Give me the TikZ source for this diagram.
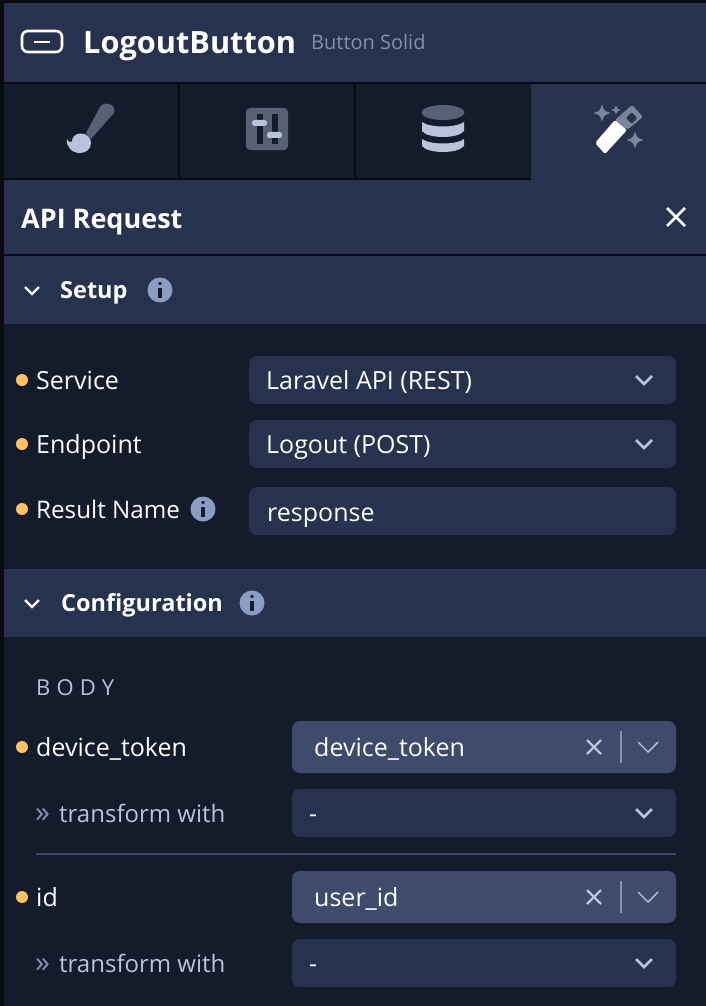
\documentclass[tikz,border=0pt]{standalone}
\usepackage{fontspec}
\setmainfont{Open Sans}
\definecolor{panel}{HTML}{27324E}
\definecolor{body}{HTML}{141B2B}
\definecolor{edge}{HTML}{090B10}
\definecolor{raised}{HTML}{3E4B6D}
\definecolor{muted}{HTML}{8391B1}
\definecolor{pale}{HTML}{B8C4D9}
\definecolor{slate}{HTML}{566175}
\definecolor{wand}{HTML}{7C8599}
\definecolor{info}{HTML}{8B9DC3}
\definecolor{dot}{HTML}{FFC05F}
\tikzset{
  lbl/.style={anchor=base west,inner sep=0pt,text=white,font=\fontsize{25}{29}\selectfont},
  head/.style={lbl,font=\fontsize{23.5}{28}\bfseries\selectfont},
  sub/.style={lbl,text=pale,font=\fontsize{24}{28}\selectfont},
  field/.style={fill=panel,rounded corners=8pt},
  chev/.style={pale,line width=2.7pt},
  thin/.style={pale,line width=1.4pt},
}
\begin{document}
\begin{tikzpicture}[x=1pt,y=-1pt]
  \useasboundingbox (0,0) rectangle (706,1006);
  % Bakgrund
  \fill[edge] (0,0) rectangle (706,1006);
  \fill[panel] (4,3) rectangle (706,82);
  \fill[body] (4,84) rectangle (178,178);
  \fill[body] (180,84) rectangle (354,178);
  \fill[body] (356,84) rectangle (531,178);
  \fill[panel] (531,84) rectangle (706,254);
  \fill[panel] (4,180) rectangle (706,254);
  \fill[panel] (4,256) rectangle (706,324);
  \fill[body] (4,324) rectangle (706,569);
  \fill[panel] (4,569) rectangle (706,637);
  \fill[body] (4,637) rectangle (706,1006);
  % Rubrik
  \draw[white,line width=2.6pt,rounded corners=6pt] (22,31) rectangle (62,52);
  \draw[white,line width=2.6pt] (34,42) -- (50,42);
  \node[head,font=\fontsize{30.7}{34}\bfseries\selectfont] (title) at (83,54) {LogoutButton};
  \node[lbl,text=muted,font=\fontsize{20}{24}\selectfont] (kind) at (311,50) {Button Solid};
  % Pensel
  \fill[slate] (86,133) -- (100,107) .. controls (103,101) and (117,103) .. (114,113) -- (91,139) -- cycle;
  \fill[pale] (67,139) .. controls (68,142) and (70,142.5) .. (72,141.5)
    .. controls (72,137) and (75,134) .. (80,133.5)
    .. controls (87,133) and (91,138) .. (91,143)
    .. controls (91,149) and (86,153) .. (80,153)
    .. controls (72,153) and (66,147) .. cycle;
  % Reglage
  \fill[slate,rounded corners=4pt] (246,108) rectangle (288,150);
  \fill[body] (257,114) rectangle (263,144);
  \fill[body] (272,114) rectangle (278,144);
  \fill[pale,rounded corners=2.5pt] (252,120) rectangle (267,126);
  \fill[pale,rounded corners=2.5pt] (267,132) rectangle (282,138);
  % Databas
  \fill[pale] (422,122) .. controls (430,128) and (456,128) .. (464,122) -- (464,131)
    .. controls (458,139) and (428,139) .. (422,131) -- cycle;
  \fill[pale] (422,139) .. controls (430,145) and (456,145) .. (464,139) -- (464,146)
    .. controls (458,154) and (428,154) .. (422,146) -- cycle;
  \fill[slate] (443,112.5) ellipse (21.5 and 7.5);
  % Trollstav
  \fill[white,rounded corners=2pt] (595,143) -- (615,120) -- (627,130) -- (605,154) -- cycle;
  \fill[wand,rounded corners=2pt,even odd rule] (615,120) -- (632,105) -- (643,117) -- (627,130) -- cycle
    (625.5,118) -- (631.5,112) -- (637.5,118) -- (631.5,124) -- cycle;
  \foreach \x/\y/\r in {602/113/8.5,616/110/4.5,635/140/8.5}
    \fill[wand] (\x-\r,\y) .. controls (\x-\r/4,\y-\r/4) .. (\x,\y-\r)
      .. controls (\x+\r/4,\y-\r/4) .. (\x+\r,\y)
      .. controls (\x+\r/4,\y+\r/4) .. (\x,\y+\r)
      .. controls (\x-\r/4,\y+\r/4) .. cycle;
  % API-rubrik
  \node[head,font=\fontsize{27}{30}\bfseries\selectfont] (request) at (21,228) {API Request};
  \draw[white,line width=2.8pt] (667,208) -- (685,226) (685,208) -- (667,226);
  % Sektioner
  \node[head] (setup) at (60,298) {Setup};
  \node[head] (config) at (61,611) {Configuration};
  \foreach \y in {290,603}
    \draw[white,line width=2.4pt] (25,\y-3) -- (32,\y+4) -- (39,\y-3);
  % Info
  \foreach \x/\y in {160/290,203/509,252/603} {
    \fill[info] (\x,\y) circle (12.5);
    \fill[body] (\x,\y-6.5) circle (1.9);
    \fill[body] (\x-1.9,\y-2.5) rectangle (\x+1.9,\y+7.5);
  }
  % Falt
  \foreach \n/\y/\t/\v in {service/356/Service/Laravel API (REST),endpoint/420/Endpoint/Logout (POST)} {
    \fill[field] (249,\y) rectangle (676,\y+48);
    \fill[dot] (22,\y+24) circle (6);
    \node[lbl] (\n) at (36,\y+33) {\t};
    \node[lbl] (\n val) at (266,\y+33) {\v};
    \draw[chev] (636,\y+20) -- (644,\y+28) -- (652,\y+20);
  }
  \fill[field] (249,487) rectangle (676,535);
  \fill[dot] (22,509) circle (6);
  \node[lbl,font=\fontsize{24.2}{28}\selectfont] (result) at (36,518) {Result Name};
  \node[lbl] (result val) at (267,521) {response};
  % Body
  \node[lbl,text=pale,font=\fontsize{22}{26}\selectfont\addfontfeatures{LetterSpace=28}] (bodylabel) at (36,695) {BODY};
  \foreach \n/\y/\t/\v in {token/721/device\_token/device\_token,id/871/id/user\_id} {
    \fill[field,fill=raised] (292,\y) rectangle (676,\y+52);
    \fill[dot] (22,\y+26) circle (6);
    \node[lbl] (\n) at (36,\y+35) {\t};
    \node[lbl] (\n val) at (314,\y+35) {\v};
    \draw[pale,line width=2.2pt] (587,\y+19) -- (601,\y+33) (601,\y+19) -- (587,\y+33);
    \draw[muted,line width=1.2pt] (621,\y+10) -- (621,\y+42);
    \draw[thin] (638,\y+21) -- (648,\y+31) -- (658,\y+21);
    % transform
    \fill[field] (292,\y+68) rectangle (676,\y+116);
    \node[sub,text=muted,font=\fontsize{30}{32}\selectfont] (\n arrow) at (35,\y+101) {»};
    \node[sub] (\n with) at (59,\y+101) {transform with};
    \node[lbl] (\n dash) at (309,\y+101) {-};
    \draw[chev] (636,\y+88) -- (644,\y+96) -- (652,\y+88);
  }
  \draw[raised,line width=1.6pt] (36,854) -- (676,854);
\end{tikzpicture}
\end{document}
